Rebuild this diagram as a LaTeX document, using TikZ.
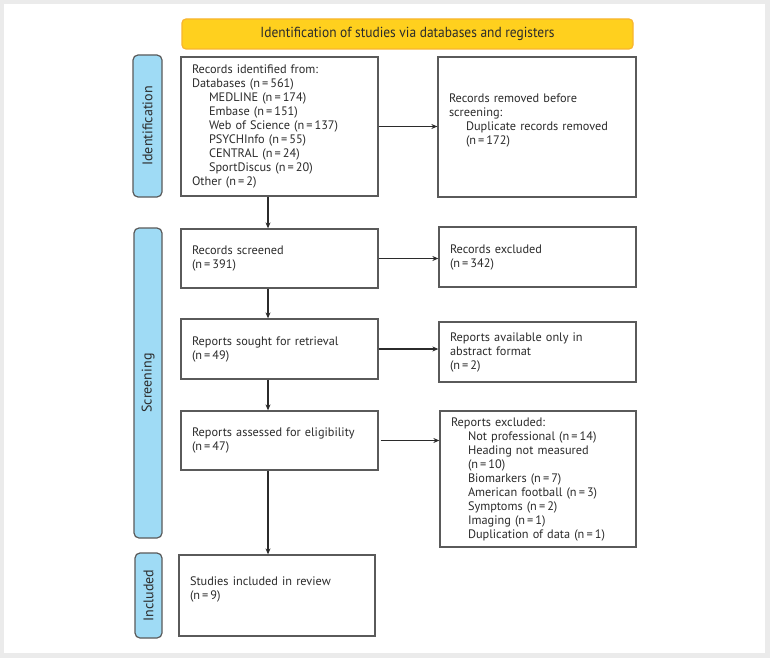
\documentclass[tikz,border=0pt]{standalone}
\usepackage{fontspec}
\setmainfont{PT Sans}
\usetikzlibrary{arrows.meta}
\definecolor{bggray}{HTML}{EBEBEB}
\definecolor{titlefill}{HTML}{FFD01E}
\definecolor{titleedge}{HTML}{F8B52E}
\definecolor{tabfill}{HTML}{9FDBF5}
\definecolor{edgegray}{HTML}{5A5A5A}
\definecolor{txt}{HTML}{2B2B2B}
\begin{document}
\begin{tikzpicture}[x=1pt,y=-1pt,
  every node/.style={font=\fontsize{12.3}{14}\selectfont, text=txt},
  box/.style={draw=edgegray, line width=1.3pt, fill=white, rectangle, inner xsep=11pt, inner ysep=0pt, align=left},
  tab/.style={draw=edgegray, line width=1.2pt, fill=tabfill, rounded corners=5pt, inner sep=0pt, font=\fontsize{14}{14}\selectfont},
  conn/.style={draw=txt, line width=1.1pt, -{Stealth[length=6pt,width=5pt]}}]
\useasboundingbox (0,0) rectangle (770,658);
\fill[bggray] (0,0) rectangle (770,658);
\fill[white] (4,4) rectangle (765,653);
% title
\node[draw=titleedge, line width=1.2pt, fill=titlefill, rounded corners=4pt, minimum width=451pt, minimum height=30pt, inner sep=0pt, font=\fontsize{14.6}{14}\selectfont] (title) at (407.5,34) {\scalebox{0.92}[1]{Identification of studies via databases and registers}};
% tabs
\node[tab, minimum width=29pt, minimum height=142pt] (tabid) at (147.5,126) {\rotatebox{90}{Identification}};
\node[tab, minimum width=28pt, minimum height=310pt] (tabsc) at (148,383) {\rotatebox{90}{Screening}};
\node[tab, minimum width=27pt, minimum height=85pt] (tabin) at (148.5,595.5) {\rotatebox{90}{Included}};
% left column
\node[box, minimum width=197pt, minimum height=139pt, text width=175pt] (ident) at (279.5,126.5) {Records identified from:\\Databases (n\,=\,561)\\\hspace*{17pt}MEDLINE (n\,=\,174)\\\hspace*{17pt}Embase (n\,=\,151)\\\hspace*{17pt}Web of Science (n\,=\,137)\\\hspace*{17pt}PSYCHInfo (n\,=\,55)\\\hspace*{17pt}CENTRAL (n\,=\,24)\\\hspace*{17pt}SportDiscus (n\,=\,20)\\Other (n\,=\,2)};
\node[box, minimum width=197pt, minimum height=59pt, text width=175pt] (screened) at (279.5,258.5) {Records screened\\(n\,=\,391)};
\node[box, minimum width=197pt, minimum height=60pt, text width=175pt] (sought) at (279.5,349) {Reports sought for retrieval\\(n\,=\,49)};
\node[box, minimum width=197pt, minimum height=59pt, text width=175pt] (assessed) at (279.5,440.5) {Reports assessed for eligibility\\(n\,=\,47)};
\node[box, minimum width=196pt, minimum height=81pt, text width=174pt] (included) at (277,595.5) {Studies included in review\\(n\,=\,9)\\[-1pt]\vspace*{13pt}};
% right column
\node[box, minimum width=198pt, minimum height=140pt, text width=176pt] (removed) at (537,127) {Records removed before\\screening:\\\hspace*{17pt}Duplicate records removed\\\hspace*{17pt}(n\,=\,172)\\[-1pt]\vspace*{15pt}};
\node[box, minimum width=197pt, minimum height=60pt, text width=175pt] (excluded) at (537.5,257) {Records excluded\\(n\,=\,342)};
\node[box, minimum width=197pt, minimum height=60pt, text width=175pt] (notavail) at (537.5,352) {Reports available only in\\abstract format\\(n\,=\,2)};
\node[box, minimum width=196pt, minimum height=136pt, text width=174pt] (repexcl) at (538,479) {Reports excluded:\\\hspace*{17pt}Not professional (n\,=\,14)\\\hspace*{17pt}Heading not measured\\\hspace*{17pt}(n\,=\,10)\\\hspace*{17pt}Biomarkers (n\,=\,7)\\\hspace*{17pt}American football (n\,=\,3)\\\hspace*{17pt}Symptoms (n\,=\,2)\\\hspace*{17pt}Imaging (n\,=\,1)\\\hspace*{17pt}Duplication of data (n\,=\,1)};
% connectors
\coordinate (vx) at (268,0);
\draw[conn] (ident.south -| vx) -- (screened.north -| vx);
\draw[conn] (screened.south -| vx) -- (sought.north -| vx);
\draw[conn] (sought.south -| vx) -- (assessed.north -| vx);
\draw[conn] (assessed.south -| vx) -- (included.north -| vx);
\draw[conn] (ident.east) -- (ident.east -| removed.west);
\draw[conn] (screened.east) -- (screened.east -| excluded.west);
\draw[conn] (sought.east) -- (sought.east -| notavail.west);
\draw[conn] ([xshift=2pt]assessed.east) -- (assessed.east -| repexcl.west);
\end{tikzpicture}
\end{document}
